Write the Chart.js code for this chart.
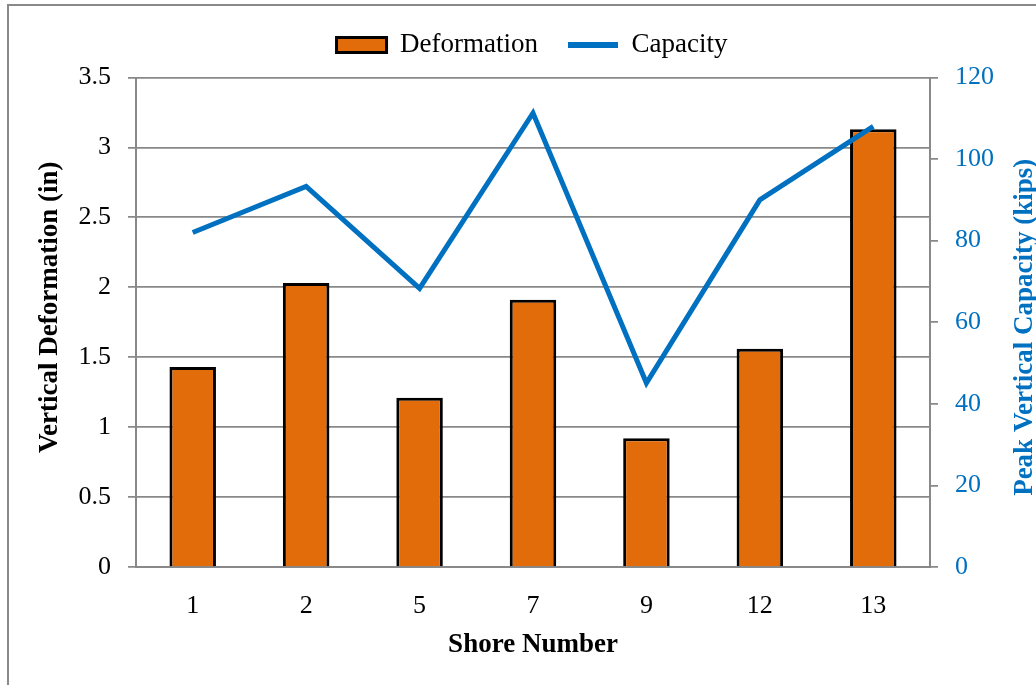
<!DOCTYPE html>
<html>
<head>
<meta charset="utf-8">
<script src="https://cdn.jsdelivr.net/npm/chart.js@4"></script>
<style>
    body { margin: 0; background: #fff; overflow: hidden; }
    #marco { position: absolute; left: 7px; top: 4px; width: 1100px; height: 800px; border: 2px solid #898989; }
    #lienzo { position: absolute; left: 0; top: 0; width: 1036px; height: 685px; }
</style>
</head>
<body>
<div id="marco"></div>
<div id="lienzo"><canvas id="grafico"></canvas></div>
<script>
const shores = ['1', '2', '5', '7', '9', '12', '13'];
const deformation = [1.43, 2.03, 1.21, 1.91, 0.92, 1.56, 3.13];
const capacity = [82.0, 93.3, 68.3, 111.3, 45.1, 90.0, 108.0];
const deformationTicks = ['0', '0.5', '1', '1.5', '2', '2.5', '3', '3.5'];
const capacityTicks = ['0', '20', '40', '60', '80', '100', '120'];
const seriesNames = ['Deformation', 'Capacity'];

const naranja = '#E36C0A';
const azul = '#0070C0';
const gris = '#898989';
const fuente = '"Liberation Serif", "Times New Roman", serif';

// Titulos de los ejes verticales (ambos se leen de abajo hacia arriba)
function dibujarTitulo(ctx, texto, x, y, color) {
    ctx.save();
    ctx.translate(x, y);
    ctx.rotate(-Math.PI / 2);
    ctx.font = 'bold 27px ' + fuente;
    ctx.fillStyle = color;
    ctx.textAlign = 'center';
    ctx.textBaseline = 'middle';
    ctx.fillText(texto, 0, 0);
    ctx.restore();
}

const titulosEjes = {
    id: 'titulosEjes',
    afterDraw(chart) {
        const area = chart.chartArea;
        const centro = (area.top + area.bottom) / 2;
        dibujarTitulo(chart.ctx, 'Vertical Deformation (in)', area.left - 86, centro - 15, '#000');
        dibujarTitulo(chart.ctx, 'Peak Vertical Capacity (kips)', area.right + 95, centro + 5, azul);
    }
};

// Un poco de aire entre la leyenda y el area del grafico
const espacioLeyenda = {
    id: 'espacioLeyenda',
    beforeLayout(chart) {
        const ley = chart.legend;
        if (!ley || ley._ajustada) return;
        const fitOriginal = ley.fit;
        ley.fit = function () {
            fitOriginal.call(this);
            this.height += 9;
        };
        ley._ajustada = true;
    }
};

const ctx = document.getElementById('grafico').getContext('2d');
new Chart(ctx, {
    type: 'bar',
    data: {
        labels: shores,
        datasets: [{
            type: 'bar',
            label: seriesNames[0],
            data: deformation,
            yAxisID: 'y',
            backgroundColor: naranja,
            borderColor: '#000',
            borderWidth: 3,
            barPercentage: 0.41,
            categoryPercentage: 1,
            order: 1
        }, {
            type: 'line',
            label: seriesNames[1],
            data: capacity,
            yAxisID: 'y1',
            borderColor: azul,
            backgroundColor: azul,
            borderWidth: 5,
            pointRadius: 0,
            tension: 0,
            order: 0
        }]
    },
    options: {
        responsive: true,
        maintainAspectRatio: false,
        animation: false,
        layout: { padding: { left: 28, top: 1.5, right: 0, bottom: 0 } },
        plugins: {
            tooltip: { enabled: false },
            legend: {
                position: 'top',
                labels: {
                    usePointStyle: true,
                    pointStyleWidth: 50,
                    boxHeight: 15,
                    padding: 30,
                    color: '#000',
                    font: { family: fuente, size: 27 },
                    generateLabels: () => [
                        { text: seriesNames[0], fillStyle: naranja, strokeStyle: '#000', lineWidth: 3, pointStyle: 'rect', hidden: false, datasetIndex: 0 },
                        { text: seriesNames[1], fillStyle: azul, strokeStyle: azul, lineWidth: 6, pointStyle: 'line', hidden: false, datasetIndex: 1 }
                    ]
                }
            }
        },
        scales: {
            x: {
                grid: { display: false, drawTicks: false },
                border: { display: true, color: gris, width: 2 },
                ticks: { color: '#000', padding: 24, font: { family: fuente, size: 26 } },
                title: {
                    display: true,
                    text: 'Shore Number',
                    color: '#000',
                    padding: { top: 0, bottom: 24 },
                    font: { family: fuente, size: 27, weight: 'bold' }
                },
                afterFit: (escala) => { escala.height = 118; }
            },
            y: {
                position: 'left',
                min: 0,
                max: 3.5,
                grid: { color: gris, lineWidth: 1.75, tickLength: 8 },
                border: { display: true, color: gris, width: 2 },
                ticks: {
                    stepSize: 0.5,
                    padding: 17,
                    color: '#000',
                    font: { family: fuente, size: 26 },
                    callback: (valor, i) => deformationTicks[i]
                },
                afterFit: (escala) => { escala.width = 108; }
            },
            y1: {
                position: 'right',
                min: 0,
                max: 120,
                grid: { drawOnChartArea: false, color: gris, lineWidth: 1.75, tickLength: 8 },
                border: { display: true, color: gris, width: 2 },
                ticks: {
                    stepSize: 20,
                    padding: 17,
                    color: azul,
                    font: { family: fuente, size: 26 },
                    callback: (valor, i) => capacityTicks[i]
                },
                afterFit: (escala) => { escala.width = 106; }
            }
        }
    },
    plugins: [espacioLeyenda, titulosEjes]
});
</script>
</body>
</html>
